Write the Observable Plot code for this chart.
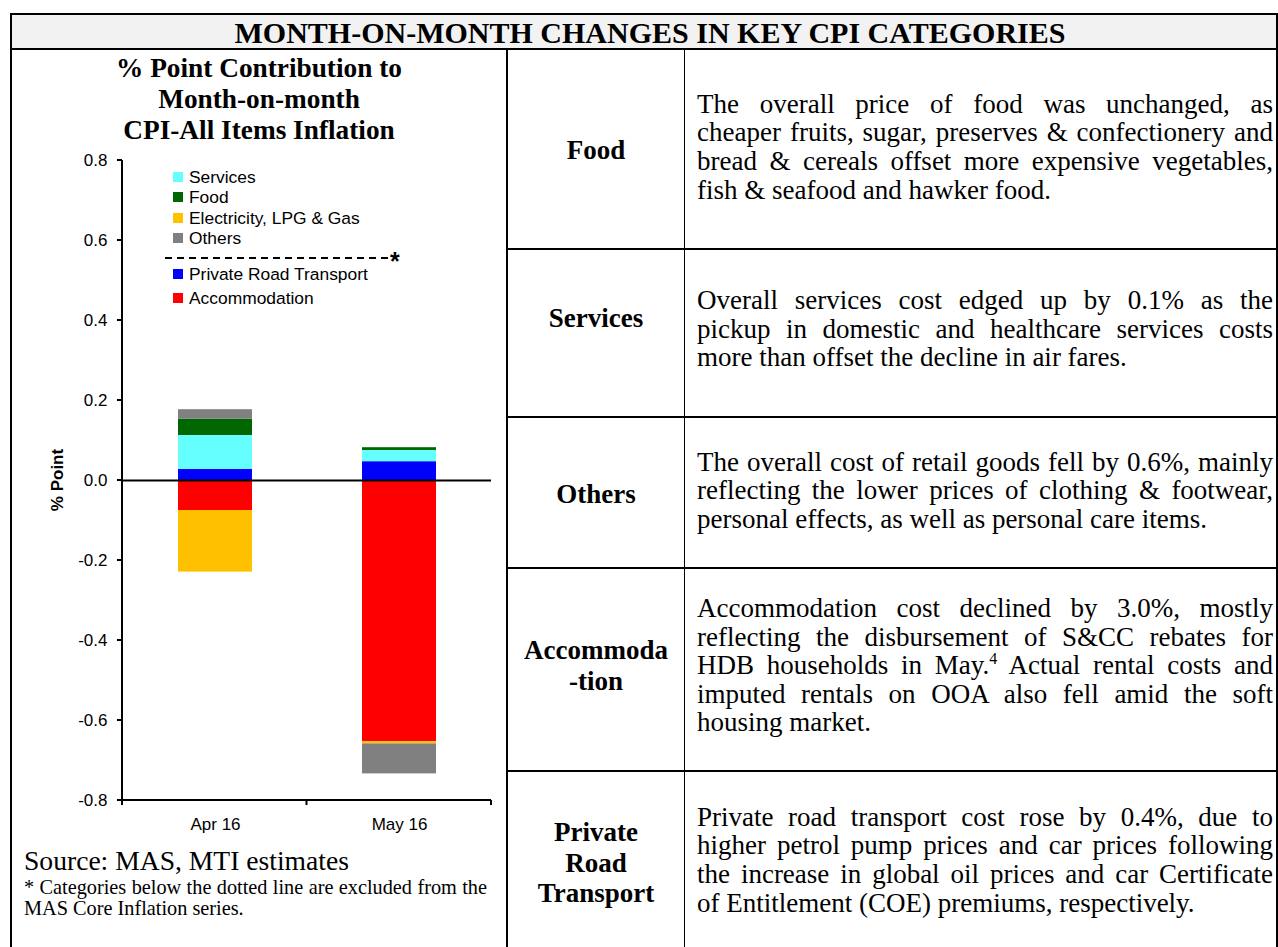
<!DOCTYPE html>
<html>
<head>
<meta charset="utf-8">
<script src="https://cdn.jsdelivr.net/npm/d3@7"></script>
<script src="https://cdn.jsdelivr.net/npm/@observablehq/plot@0.6"></script>
<style>
html,body{margin:0;padding:0;background:#fff;}
body{width:1278px;height:947px;position:relative;overflow:hidden;font-family:"Liberation Serif","Times New Roman",serif;color:#000;}
.jl{text-align:justify;text-align-last:justify;}
.ll{text-align:left;text-align-last:left;}
sup{font-size:16px;line-height:0;vertical-align:super;}
</style>
</head>
<body>
<script>
// ---------------- data ----------------
const months = ["Apr 16", "May 16"];
// stacking order (bottom-up from zero)
const seriesNames = ["Private Road Transport", "Accommodation", "Services", "Food", "Electricity, LPG & Gas", "Others"];
const seriesColors = ["#0000ff", "#ff0000", "#66ffff", "#006600", "#ffc000", "#808080"];
const privateRoadTransport = [0.0275, 0.047];
const accommodation = [-0.075, -0.6525];
const services = [0.085, 0.028];
const food = [0.0405, 0.007];
const electricity = [-0.154, -0.006];
const others = [0.024, -0.075];
const yTicks = [-0.8, -0.6, -0.4, -0.2, 0, 0.2, 0.4, 0.6, 0.8];
const legendCore = ["Services", "Food", "Electricity, LPG & Gas", "Others"];
const legendExcluded = ["Private Road Transport", "Accommodation"];

const headerTitle = "MONTH-ON-MONTH CHANGES IN KEY CPI CATEGORIES";
const chartTitle = ["% Point Contribution to", "Month-on-month", "CPI-All Items Inflation"];
const yLabel = "% Point";
const sourceText = "Source: MAS, MTI estimates";
const footnoteLines = ["* Categories below the dotted line are excluded from the", "MAS Core Inflation series."];

const tableCategories = [["Food"], ["Services"], ["Others"], ["Accommoda", "-tion"], ["Private", "Road", "Transport"]];
const tableTexts = [
  ["The overall price of food was unchanged, as",
   "cheaper fruits, sugar, preserves & confectionery and",
   "bread & cereals offset more expensive vegetables,",
   "fish & seafood and hawker food."],
  ["Overall services cost edged up by 0.1% as the",
   "pickup in domestic and healthcare services costs",
   "more than offset the decline in air fares."],
  ["The overall cost of retail goods fell by 0.6%, mainly",
   "reflecting the lower prices of clothing & footwear,",
   "personal effects, as well as personal care items."],
  ["Accommodation cost declined by 3.0%, mostly",
   "reflecting the disbursement of S&CC rebates for",
   "HDB households in May.^4 Actual rental costs and",
   "imputed rentals on OOA also fell amid the soft",
   "housing market."],
  ["Private road transport cost rose by 0.4%, due to",
   "higher petrol pump prices and car prices following",
   "the increase in global oil prices and car Certificate",
   "of Entitlement (COE) premiums, respectively."]
];

// ---------------- layout ----------------
const L = {
  rowTop: [50, 250, 418, 569, 772],
  rowBottom: [248, 416, 567, 770, 948],
  labelNudge: [1, -15, 2, -4, 3],
  textNudge: [-2, -4, -2, -4, 0],
  svgLeft: 12, svgTop: 150
};

function el(tag, css, html) {
  const e = document.createElement(tag);
  if (css) e.style.cssText = css;
  if (html !== undefined) e.innerHTML = html;
  document.body.appendChild(e);
  return e;
}
function esc(s) { return s.replace(/&/g, "&amp;").replace(/</g, "&lt;"); }

// frame
el("div", "position:absolute;left:10px;top:13px;width:1268px;height:960px;border:2px solid #000;box-sizing:border-box;");
el("div", "position:absolute;left:12px;top:15px;width:1264px;height:33px;background:#f2f2f2;");
el("div", "position:absolute;left:10px;top:48px;width:1268px;height:2px;background:#000;");
el("div", "position:absolute;left:506px;top:48px;width:2px;height:910px;background:#000;");
el("div", "position:absolute;left:684px;top:50px;width:1px;height:910px;background:#000;");
[248, 416, 567, 770].forEach(y => el("div", `position:absolute;left:508px;top:${y}px;width:770px;height:2px;background:#000;`));

// header
el("div", "position:absolute;left:24px;top:18px;width:1252px;text-align:center;font-weight:bold;font-size:30px;line-height:30px;white-space:nowrap;", esc(headerTitle));

// table cells
tableCategories.forEach((lines, i) => {
  const top = L.rowTop[i], h = L.rowBottom[i] - L.rowTop[i];
  const cell = el("div", `position:absolute;left:508px;top:${top}px;width:176px;height:${h}px;display:flex;align-items:center;justify-content:center;`);
  const inner = document.createElement("div");
  inner.style.cssText = `font-weight:bold;font-size:27px;line-height:30.5px;text-align:center;transform:translateY(${L.labelNudge[i]}px);`;
  inner.innerHTML = lines.map(esc).join("<br>");
  cell.appendChild(inner);

  const tcell = el("div", `position:absolute;left:697px;top:${top}px;width:576px;height:${h}px;display:flex;align-items:center;`);
  const tin = document.createElement("div");
  tin.style.cssText = `width:576px;font-size:27px;line-height:28.6px;transform:translateY(${L.textNudge[i]}px);`;
  const tl = tableTexts[i];
  tin.innerHTML = tl.map((s, k) => `<div class="${k < tl.length - 1 ? "jl" : "ll"}">${esc(s).replace("^4", "<sup>4</sup>")}</div>`).join("");
  tcell.appendChild(tin);
});

// chart title
el("div", "position:absolute;left:12px;top:53px;width:494px;text-align:center;font-weight:bold;font-size:27.3px;line-height:31px;white-space:nowrap;", chartTitle.map(esc).join("<br>"));

// source + footnote
el("div", "position:absolute;left:24px;top:846px;font-size:27.6px;line-height:30px;white-space:nowrap;", esc(sourceText));
el("div", "position:absolute;left:24px;top:877px;width:463px;font-size:20.3px;line-height:21px;",
  footnoteLines.map((s, k) => `<div class="${k < footnoteLines.length - 1 ? "jl" : "ll"}">${esc(s)}</div>`).join(""));

// ---------------- chart ----------------
const valuesBySeries = [privateRoadTransport, accommodation, services, food, electricity, others];
const rows = [];
months.forEach((m, i) => seriesNames.forEach((s, j) => rows.push({month: m, series: s, value: valuesBySeries[j][i]})));

const chart = Plot.plot({
  width: 494, height: 700,
  marginLeft: 110, marginRight: 15, marginTop: 10, marginBottom: 50,
  style: {fontFamily: '"Liberation Sans", Arial, sans-serif', fontSize: "17px", color: "#000", background: "transparent", overflow: "visible"},
  x: {domain: months, paddingInner: 0.6, paddingOuter: 0.3, label: null, tickSize: 0, tickPadding: 17},
  y: {domain: [-0.8, 0.8], ticks: yTicks, tickFormat: d => d.toFixed(1), label: null, tickSize: 0, tickPadding: 15},
  color: {domain: seriesNames, range: seriesColors},
  marks: [
    Plot.barY(rows, {x: "month", y: "value", fill: "series"}),
    Plot.ruleY([0], {stroke: "#000", strokeWidth: 2})
  ]
});
const holder = el("div", `position:absolute;left:${L.svgLeft}px;top:${L.svgTop}px;`);
holder.appendChild(chart);

// axis lines & ticks from the plot's own scales
const xs = chart.scale("x"), ys = chart.scale("y");
const [x0, x1] = xs.range;
const yTop = ys.apply(0.8), yBot = ys.apply(-0.8);
const g = d3.select(chart).append("g").attr("stroke", "#000").attr("stroke-width", 2);
g.append("line").attr("x1", x0).attr("x2", x0).attr("y1", yTop).attr("y2", yBot);
g.append("line").attr("x1", x0).attr("x2", x1).attr("y1", yBot).attr("y2", yBot);
yTicks.forEach(t => g.append("line").attr("x1", x0 - 5).attr("x2", x0).attr("y1", ys.apply(t)).attr("y2", ys.apply(t)));
for (let i = 0; i <= months.length; i++) {
  const x = x0 + i * (x1 - x0) / months.length;
  g.append("line").attr("x1", x).attr("x2", x).attr("y1", yBot).attr("y2", yBot + 5);
}

// y-axis label
el("div", "position:absolute;left:8px;top:470px;width:100px;height:20px;line-height:20px;text-align:center;font-family:'Liberation Sans',Arial,sans-serif;font-weight:bold;font-size:17px;transform:rotate(-90deg);", esc(yLabel));

// legend (overlay)
const colorOf = name => seriesColors[seriesNames.indexOf(name)];
function legendItem(name, cy) {
  el("div", `position:absolute;left:173px;top:${cy - 5}px;width:10px;height:10px;background:${colorOf(name)};`);
  el("div", `position:absolute;left:189px;top:${cy - 10}px;height:20px;line-height:20px;font-family:'Liberation Sans',Arial,sans-serif;font-size:17.4px;white-space:nowrap;`, esc(name));
}
legendCore.forEach((n, i) => legendItem(n, 177 + i * 20.4));
legendExcluded.forEach((n, i) => legendItem(n, 274 + i * 24));
el("div", "position:absolute;left:165px;top:257px;", `<svg width="223" height="3" style="display:block"><line x1="0" x2="223" y1="1" y2="1" stroke="#000" stroke-width="2" stroke-dasharray="7,5"/></svg>`);
el("div", "position:absolute;left:390px;top:249px;line-height:24px;font-family:'Liberation Sans',Arial,sans-serif;font-weight:bold;font-size:25px;", "*");
</script>
</body>
</html>
